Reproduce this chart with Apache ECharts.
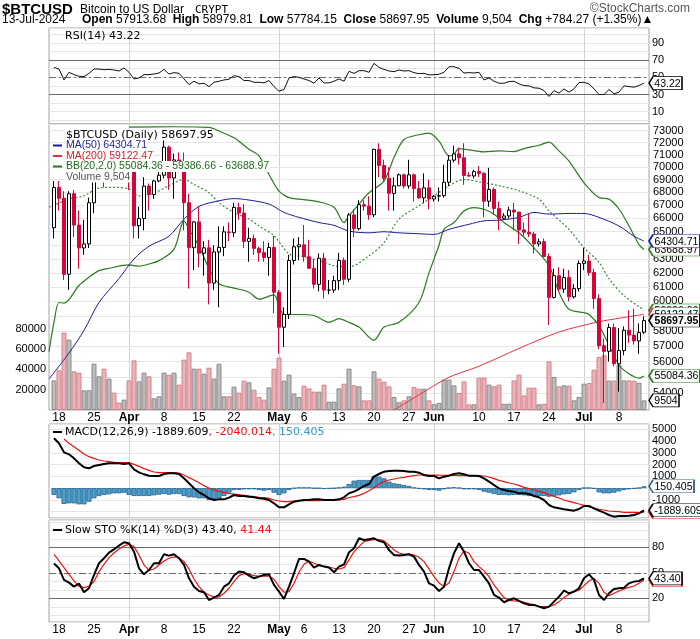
<!DOCTYPE html>
<html><head><meta charset="utf-8">
<script src="https://cdn.jsdelivr.net/npm/echarts@6/dist/echarts.min.js"></script>
<style>html,body{margin:0;padding:0;background:#fff}#c{width:700px;height:639px}</style>
</head><body><div id="c"></div>
<script>
// ---------- DATA (day index 0 = 17-Mar-2024 ... 118 = 13-Jul-2024) ----------
const opens = [65300,68390,67550,61900,67900,65500,63800,64100,67200,69950,69990,69450,70750,69900,69650,71300,69650,65450,65990,68500,67840,68900,69360,71630,69140,70590,70060,67200,63820,65740,63420,63810,61280,63510,63840,64990,64930,66840,66410,64280,64500,63770,63460,63110,63840,60640,58250,59120,62890,63890,64030,63160,62330,61190,63050,60790,60790,61450,62900,61550,66270,65230,67050,66940,66280,71450,70140,69120,67930,68520,69390,68510,69390,68300,67580,68360,67490,67710,67750,68800,70570,71080,70760,69340,69300,69650,69510,67320,68240,66760,66010,66190,66640,66490,65140,64960,64830,64100,64260,63180,60280,61800,60860,61670,60320,60890,62680,62850,62030,60200,57030,56660,58230,55860,56710,58050,57730,57340,57913.68];
const highs = [68900,68900,68100,68100,68200,66600,65900,67600,71200,71500,71700,71500,70900,70300,71400,71300,69650,66900,69200,68700,69000,70300,72300,71750,71100,71200,71200,67900,65800,66900,64300,64400,64000,65400,65400,65700,67200,67200,67100,65300,64800,63900,64300,64200,64700,60800,59600,63300,64500,64600,65500,64400,63000,63400,63450,61500,61800,63450,63100,66400,66700,67400,67400,67700,71500,71950,70600,70000,69200,69500,69500,70600,69500,68900,69500,69000,67800,68400,70200,71000,71750,71600,71950,69600,69800,70100,69600,69950,68400,67300,66400,66900,67200,66500,65700,66400,65000,64500,64500,63400,62300,62400,62300,62200,61200,62900,63800,63300,62300,60500,57500,58500,58500,58200,58300,59400,59500,58500,58979.81];
const lows = [64500,66600,61500,60800,64600,62300,63300,63800,66400,69500,68400,68900,69100,69600,69600,68200,64500,64500,65100,66600,67500,68800,69100,68200,67500,69600,65100,60900,62200,62400,61800,59800,60800,59600,63200,64300,64600,65900,63800,62800,63300,62800,62800,61800,59200,56500,56950,58800,62600,62900,62800,62300,60900,60700,60200,60500,60600,60800,61150,61350,64600,65100,66600,65900,66100,69200,68900,66600,66600,68500,68300,68300,67300,67500,67200,66700,67300,67300,67600,68500,70400,70200,68600,69200,69100,69200,66100,66900,66300,65100,65900,66000,65100,64100,64700,64600,63400,63900,63200,58400,60200,60700,60600,60000,60200,60700,62200,61800,59500,56800,53400,56000,55700,54100,56400,57200,57100,56500,57784.15];
const closes = [68390,67550,61900,67900,65500,63800,64100,67200,69950,69990,69450,70750,69900,69650,71300,69650,65450,65990,68500,67840,68900,69360,71630,69140,70590,70060,67200,63820,65740,63420,63810,61280,63510,63840,64990,64930,66840,66410,64280,64500,63770,63460,63110,63840,60640,58250,59120,62890,63890,64030,63160,62330,61190,63050,60790,60790,61450,62900,61550,66270,65230,67050,66940,66280,71450,70140,69120,67930,68520,69390,68510,69390,68300,67580,68360,67490,67710,67750,68800,70570,71080,70760,69340,69300,69650,69510,67320,68240,66760,66010,66190,66640,66490,65140,64960,64830,64100,64260,63180,60280,61800,60860,61670,60320,60890,62680,62850,62030,60200,57030,56660,58230,55860,56710,58050,57730,57340,57890,58697.95];
const volumes = [29200,39000,76200,69300,38100,36800,19400,19400,45600,33200,40700,30900,17100,7200,10200,29200,48900,28200,36800,33200,11500,13500,36800,34800,36800,25000,49600,56800,40700,40700,35800,41700,30900,45600,13500,13500,23000,17100,28900,27300,20000,12800,10200,22300,40700,51600,28900,34800,16100,12800,24000,21300,18100,18100,25000,8200,8200,21300,25900,40700,24300,23300,9500,9500,38100,30900,27900,23300,12800,7600,9500,13500,22700,21000,21000,9500,5600,6900,29900,29900,24300,16700,28200,5600,5600,31900,31900,25000,23300,25000,6200,6200,29200,34800,14400,22000,22000,5600,6200,47900,32500,23300,24300,24000,9500,12800,25900,26600,39700,52200,54000,29000,29000,44600,29200,29200,28900,26900,9504];
// overlay lines read at sample days: [dayIndex, value]
const ma50Pts = [[-1,54890],[3,56550],[6,58040],[9,59930],[13,61600],[16,63000],[19,63930],[23,64670],[26,65950],[29,66920],[33,67350],[36,67520],[39,67410],[43,67100],[46,66460],[49,66080],[53,65690],[56,65480],[59,65050],[63,64920],[66,65000],[69,64920],[73,64850],[76,64800],[79,65180],[83,65560],[86,65820],[89,65870],[93,66080],[96,66460],[99,66330],[103,66380],[106,66380],[109,66080],[113,65430],[116,64670],[118,64304.71]];
const ma200Pts = [[68,52970],[73,53900],[79,55000],[85,55700],[93,56850],[101,57930],[109,58620],[113,58850],[118,59122.47]];
const bbUpperPts = [[15,73300],[24,73330],[31,73280],[33,72970],[36,72400],[39,71460],[41,70920],[43,69420],[45,68100],[47,67600],[49,67480],[53,67270],[56,66850],[58,65690],[59,66200],[61,67100],[63,67980],[66,68890],[68,70780],[70,72260],[73,72660],[75,72790],[77,72130],[79,70920],[80,71055],[81,71515],[86,71240],[89,71320],[92,71270],[94,71515],[97,71790],[99,72050],[101,71320],[103,70500],[106,68760],[109,67600],[111,67480],[113,66720],[115,65430],[117,64050],[118,63688.97]];
const bbMidPts = [[-1,66850],[3,67480],[6,67740],[9,68350],[12,68400],[15,68270],[17,67740],[20,67950],[23,68530],[26,69020],[28,68630],[31,67980],[33,67200],[36,66450],[39,65950],[41,65430],[44,64700],[47,63360],[49,63230],[52,63000],[56,62520],[59,62430],[63,63230],[66,64190],[69,65950],[73,66970],[76,67740],[79,68530],[82,69020],[86,68760],[89,68530],[93,68130],[97,67480],[99,66580],[103,65180],[106,63820],[109,62760],[111,61590],[114,60400],[117,59640],[118,59386.66]];
const bbLowerPts = [[-1,56640],[0,58590],[1,59930],[2,59880],[5,61110],[7,61690],[9,62160],[11,62330],[15,62570],[17,62480],[19,62640],[21,62880],[24,63700],[26,65820],[27,65180],[29,63930],[31,62300],[33,61230],[36,60930],[39,60640],[41,60160],[44,60450],[45,59690],[46,59110],[49,59110],[52,59040],[55,58580],[57,58830],[59,58580],[61,58260],[64,57390],[66,58260],[69,58580],[73,59930],[75,62000],[77,64000],[78,65180],[80,65690],[82,66570],[84,66830],[86,66700],[88,66310],[90,65690],[93,64920],[96,63810],[99,62520],[101,60640],[103,59460],[106,59230],[107,59110],[109,58360],[111,57060],[113,55780],[115,55220],[117,54950],[118,55084.36]];
const rsi = [61.5,59.6,46.9,55.8,53.1,51.2,50.8,54.6,59.6,59.6,58.8,59.2,58.5,57.3,60.8,55.8,48.1,49.2,53.1,53.1,53.8,55.0,59.2,53.8,55.4,54.6,48.1,41.5,45.4,42.3,43.1,39.2,44.2,45.4,46.9,47.7,51.9,50.8,46.2,46.2,44.2,44.2,43.5,46.2,39.2,33.8,35.8,49.2,50.8,50.0,48.1,46.2,43.1,49.2,43.5,43.5,45.4,48.1,45.4,56.9,54.6,57.7,57.7,55.8,66.2,61.5,59.2,57.3,56.5,58.5,57.3,57.7,55.4,54.2,54.6,52.7,53.1,53.5,55.8,62.3,62.3,60.4,55.0,55.4,55.0,55.8,46.9,49.2,45.4,43.1,43.1,45.0,45.4,42.3,40.4,40.0,37.7,37.3,34.6,27.7,34.6,31.5,36.5,32.7,36.5,43.8,44.2,42.3,36.5,30.0,30.0,35.8,30.8,32.7,40.0,39.2,38.5,40.4,43.22];
const macdLine = [4236,3810,3044,2874,2533,2108,1767,1682,1881,1966,2051,2108,2108,2108,2051,2108,1597,1342,1172,1058,1030,1030,1200,1257,1257,1200,831,406,-20,-360,-587,-871,-1013,-956,-956,-814,-587,-672,-672,-729,-786,-871,-899,-1013,-1296,-1637,-1637,-1382,-1155,-1070,-1013,-1013,-956,-956,-1013,-1013,-1013,-956,-786,-440,-304,-77,179,349,973,1200,1399,1455,1484,1484,1455,1399,1399,1314,1115,1030,1030,831,973,1058,1200,1257,1172,1058,1058,1030,831,548,264,-20,-162,-247,-304,-445,-445,-502,-672,-786,-1013,-1438,-1637,-1722,-1807,-1864,-1920,-1779,-1523,-1523,-1722,-1920,-2091,-2290,-2431,-2375,-2375,-2346,-2290,-2148,-1889.609];
const macdSignal = [null,null,4179,3810,3526,3214,2902,2675,2533,2391,2306,2250,2193,2165,2165,2165,2023,1853,1654,1512,1370,1314,1314,1314,1314,1285,1115,888,689,463,207,9,-162,-275,-360,-474,-502,-559,-616,-672,-729,-786,-814,-871,-1013,-1098,-1155,-1155,-1098,-1070,-1070,-1070,-1070,-1070,-1013,-1013,-1013,-1013,-956,-800,-729,-616,-445,-218,37,349,548,689,775,860,916,1001,1058,1115,1115,1115,1110,1100,1095,1090,1087,1058,1058,1058,1058,1058,1030,945,803,661,548,434,349,235,65,-48,-162,-275,-389,-559,-701,-843,-1013,-1126,-1240,-1353,-1467,-1580,-1694,-1807,-1864,-1949,-1977,-2006,-2062,-2062,-2062,-2091,-2040.014];
const macdHist = [-587,-871,-1353,-1297,-1297,-1382,-1382,-1155,-871,-672,-587,-531,-445,-445,-389,-587,-672,-672,-672,-672,-616,-559,-502,-559,-502,-502,-672,-786,-786,-871,-871,-1013,-956,-871,-672,-389,-162,-162,-105,-105,-105,-162,-218,-162,-389,-587,-445,-162,-20,37,37,37,-20,-20,-77,-48,-20,37,122,349,633,689,689,689,1030,973,831,548,406,349,264,179,37,-48,-105,-162,-162,-218,-105,9,65,9,-105,-105,-105,-162,-304,-389,-502,-587,-587,-616,-587,-587,-616,-672,-672,-672,-672,-729,-672,-616,-531,-502,-360,-162,9,9,-48,-360,-445,-445,-389,-275,-162,-105,-48,9,150.405];
const stoK = [60.8,55.3,41.6,38.4,33.7,37.3,27.1,31.8,47.5,61.2,67.1,73.7,77.6,82.0,85.9,84.7,74.9,55.3,48.2,53.3,61.2,61.2,71.8,70.2,71.8,67.1,59.2,43.5,33.7,28.6,27.1,18.0,20.8,23.9,33.7,37.6,46.7,51.4,50.6,46.7,43.5,45.5,47.5,48.2,35.7,27.8,19.2,33.7,49.4,66.3,66.3,63.1,56.1,59.2,57.3,56.1,50.6,57.3,60.0,74.1,78.8,90.6,88.6,89.4,90.6,87.5,85.9,76.9,71.0,70.2,71.0,71.8,69.0,59.2,51.4,37.6,34.9,28.6,33.7,55.3,72.9,84.7,74.9,61.2,53.3,53.3,45.5,37.6,23.9,20.8,15.3,18.0,20.0,16.9,14.1,12.2,12.2,10.2,8.2,10.2,16.1,22.0,29.0,25.9,27.8,31.8,43.5,48.2,41.6,23.9,18.0,25.9,31.0,31.8,32.5,37.6,39.6,40.4,43.40];
const stoD = [71.8,63.9,56.1,48.2,40.4,34.1,32.5,34.1,39.6,51.4,60.0,67.8,73.3,78.0,81.6,83.5,80.8,71.0,59.2,52.9,54.5,59.2,63.9,67.1,68.6,67.8,63.1,54.5,42.7,33.7,27.1,23.9,21.6,21.2,25.9,31.8,39.6,46.7,49.0,48.2,46.7,45.9,45.9,46.3,42.4,33.7,27.1,27.8,37.6,50.6,60.0,63.9,61.2,59.2,57.6,56.5,55.3,54.5,56.1,65.1,74.9,80.8,86.7,88.2,89.0,89.0,87.5,82.4,76.9,73.3,71.8,71.8,71.0,68.2,63.1,54.5,45.5,38.0,33.7,38.0,51.4,67.1,75.7,73.0,63.1,57.3,52.2,45.5,35.7,28.2,20.8,17.6,16.9,16.5,15.3,13.7,12.2,10.6,10.2,10.2,12.2,16.1,20.8,24.7,27.8,29.4,34.9,40.4,43.5,37.6,27.1,23.1,25.9,28.6,31.0,32.9,34.5,37.6,41.44];
const dateTicks = [[1,'18'],[8,'25'],[15,'Apr'],[22,'8'],[29,'15'],[36,'22'],[45,'May'],[50,'6'],[57,'13'],[64,'20'],[71,'27'],[76,'Jun'],[85,'10'],[92,'17'],[99,'24'],[106,'Jul'],[113,'8']];
const monthStarts = [15,45,76,106];
const priceTicks = [54000,55000,56000,57000,58000,59000,60000,61000,62000,63000,64000,65000,66000,67000,68000,69000,70000,71000,72000,73000];

// ---------- BUILD ----------
const FONT = '"Liberation Sans", Arial, sans-serif';
const LFONT = '"DejaVu Sans", Verdana, sans-serif';
const N = opens.length + 2;                  // one empty slot each side
const cats = Array.from({length: N}, (_, k) => String(k));
const pad = a => [null, ...a, null];
const pts = a => a.map(([i, v]) => [i + 1, v]);
const lab = {}; dateTicks.forEach(([i, t]) => lab[i + 1] = t);
const monthK = monthStarts.map(i => i + 1);
const last = N - 2;

const RED = '#d3063a', UPC = '#000';
const candles = ['-', ...opens.map((o, i) => [o, closes[i], lows[i], highs[i]]), '-'];
const vols = [null, ...volumes.map((v, i) => ({value: v, itemStyle: closes[i] < opens[i]
  ? {color: '#e9b5ba', borderColor: '#d5808a'} : {color: '#bdbdbd', borderColor: '#8a8a8a'}})), null];

function xAxis(g, showLab) {
  return {type: 'category', gridIndex: g, data: cats, boundaryGap: false,
    axisLine: {show: false}, axisTick: {show: false},
    axisLabel: {show: showLab, interval: 0, hideOverlap: false, margin: 2, fontSize: 12, fontFamily: FONT, color: '#000',
      formatter: v => { const t = lab[+v]; if (!t) return ''; return /^[A-Z]/.test(t) ? '{b|' + t + '}' : t; },
      rich: {b: {fontWeight: 'bold', fontSize: 12, fontFamily: FONT, color: '#000'}}},
    splitLine: {show: true, interval: (idx) => monthK.includes(idx), lineStyle: {color: '#d2d2d2', width: 1}}};
}
// value tag with a left-pointing arrow, anchored on the series' last point
function tagMark(value, text, border, z, bold) {
  const w = Math.round(text.replace(/[.,]/g, '').replace('-', '').length * 5.84 + (text.match(/[.,]/g) || []).length * 2.92 + (text[0] === '-' ? 3.5 : 0) + 7);
  return {z: z, silent: true, animation: false,
    symbol: 'path://M0,6.5L4,0L' + w + ',0L' + w + ',13L4,13Z', symbolSize: [w, 13], symbolKeepAspect: false,
    symbolOffset: [w / 2 + 5, 0],
    itemStyle: {color: '#fff', borderColor: border, borderWidth: 1},
    label: {show: true, position: 'inside', offset: [2, 0.5], formatter: () => text, color: '#000', fontSize: 10.5,
      fontFamily: FONT, fontWeight: bold ? 'bold' : 'normal'},
    data: [{coord: [String(last), value]}]};
}
const gridBase = {left: 49, right: 51, show: true, borderColor: '#a3a3a3', borderWidth: 1, backgroundColor: '#fff', containLabel: false, outerBoundsMode: 'none'};
const SPL = {show: true, lineStyle: {color: '#e5e5e5', width: 1}};
function levelLines(solid, dashed) {
  return {z: 1, symbol: ['none', 'none'], silent: true, animation: false, label: {show: false},
    data: [...solid.map(v => ({yAxis: v, lineStyle: {color: '#6a6a6a', width: 1, type: 'solid'}})),
           ...dashed.map(v => ({yAxis: v, lineStyle: {color: '#6a6a6a', width: 1, type: [7, 3, 2, 3]}}))]};
}

const option = {
  animation: false,
  grid: [
    Object.assign({top: 28, height: 96}, gridBase),
    Object.assign({top: 124, height: 286}, gridBase),
    Object.assign({top: 424, height: 94}, gridBase),
    Object.assign({top: 520, height: 102}, gridBase)
  ],
  xAxis: [xAxis(0, false), xAxis(1, true), xAxis(2, false), xAxis(3, true)],
  yAxis: [
    {type: 'value', gridIndex: 0, position: 'right', min: -4.3, max: 107.3, minInterval: 10, maxInterval: 10,
      axisLine: {show: false}, axisTick: {show: false}, splitLine: SPL, showMinLabel: false, showMaxLabel: false,
      axisLabel: {margin: 3, fontSize: 11, fontFamily: FONT, color: '#000', formatter: v => [10, 30, 50, 70, 90].includes(v) ? String(v) : ''}},
    {type: 'log', logBase: 10, gridIndex: 1, min: 52970, max: 73560, show: false, splitLine: {show: false}},
    {type: 'value', gridIndex: 1, position: 'left', min: 0, max: 281800, minInterval: 20000, maxInterval: 20000,
      axisLine: {show: false}, axisTick: {show: false}, splitLine: {show: false},
      axisLabel: {margin: 3, fontSize: 11, fontFamily: FONT, color: '#000', formatter: v => (v >= 20000 && v <= 80000) ? String(v) : ''}},
    {type: 'value', gridIndex: 2, position: 'right', min: -2545, max: 5455, minInterval: 1000, maxInterval: 1000,
      axisLine: {show: false}, axisTick: {show: false}, splitLine: SPL, showMinLabel: false, showMaxLabel: false,
      axisLabel: {margin: 3, fontSize: 11, fontFamily: FONT, color: '#000', formatter: v => (v % 1000 === 0 && v >= -2000 && v <= 5000) ? String(v) : ''}},
    {type: 'value', gridIndex: 3, position: 'right', min: -7.9, max: 112.1, minInterval: 10, maxInterval: 10,
      axisLine: {show: false}, axisTick: {show: false}, splitLine: SPL, showMinLabel: false, showMaxLabel: false,
      axisLabel: {margin: 3, fontSize: 11, fontFamily: FONT, color: '#000', formatter: v => [20, 50, 80].includes(v) ? String(v) : ''}}
  ],
  series: [
    // RSI
    {type: 'line', xAxisIndex: 0, yAxisIndex: 0, data: pad(rsi), showSymbol: false, z: 3,
      lineStyle: {color: '#111', width: 1}, markPoint: tagMark(43.22, '43.22', '#000', 10),
      markLine: levelLines([70, 30], [50])},
    // price gridlines + labels
    {type: 'line', xAxisIndex: 1, yAxisIndex: 1, data: pad(closes), showSymbol: false, silent: true, z: 0,
      lineStyle: {opacity: 0, width: 0},
      markLine: {z: 0, symbol: ['none', 'none'], silent: true, animation: false,
        lineStyle: {color: '#e5e5e5', width: 1, type: 'solid'},
        label: {show: true, position: 'end', distance: 4, formatter: p => String(p.value), color: '#000', fontSize: 11, fontFamily: FONT},
        data: priceTicks.map(v => ({yAxis: v}))}},
    // volume
    {type: 'bar', xAxisIndex: 1, yAxisIndex: 2, data: vols, barWidth: 5, z: 1, itemStyle: {borderWidth: 1},
      markPoint: tagMark(9504, '9504', '#000', 10)},
    // Bollinger bands
    {type: 'line', xAxisIndex: 1, yAxisIndex: 1, data: pts(bbMidPts), connectNulls: true, smooth: 0.3, showSymbol: false, z: 2,
      lineStyle: {color: '#3d8a3d', width: 1.2, type: [2, 2]}, markPoint: tagMark(59386.66, '59386.66', '#2b7a1f', 10)},
    {type: 'line', xAxisIndex: 1, yAxisIndex: 1, data: pts(bbUpperPts), connectNulls: true, smooth: 0.3, showSymbol: false, z: 2,
      lineStyle: {color: '#2b7a1f', width: 1.2}, markPoint: tagMark(63688.97, '63688.97', '#2b7a1f', 10)},
    {type: 'line', xAxisIndex: 1, yAxisIndex: 1, data: pts(bbLowerPts), connectNulls: true, smooth: 0.3, showSymbol: false, z: 2,
      lineStyle: {color: '#2b7a1f', width: 1.2}, markPoint: tagMark(55084.36, '55084.36', '#2b7a1f', 10)},
    // moving averages
    {type: 'line', xAxisIndex: 1, yAxisIndex: 1, data: pts(ma200Pts), connectNulls: true, smooth: 0.3, showSymbol: false, z: 3,
      lineStyle: {color: '#e2343e', width: 1}, markPoint: tagMark(59122.47, '59122.47', '#e2343e', 11)},
    {type: 'line', xAxisIndex: 1, yAxisIndex: 1, data: pts(ma50Pts), connectNulls: true, smooth: 0.3, showSymbol: false, z: 3,
      lineStyle: {color: '#1d1d9a', width: 1}, markPoint: tagMark(64304.71, '64304.71', '#1d1d9a', 11)},
    // candles
    {type: 'candlestick', xAxisIndex: 1, yAxisIndex: 1, data: candles, barWidth: 4, z: 4,
      itemStyle: {color: '#fff', color0: RED, borderColor: UPC, borderColor0: RED, borderWidth: 1},
      markPoint: tagMark(58697.95, '58697.95', '#000', 12, true)},
    // MACD
    {type: 'bar', xAxisIndex: 2, yAxisIndex: 3, data: pad(macdHist), barWidth: 5, z: 1,
      itemStyle: {color: '#4f9fcc', borderColor: '#1f5f8d', borderWidth: 0.8},
      markPoint: tagMark(150.405, '150.405', '#336699', 10)},
    {type: 'line', xAxisIndex: 2, yAxisIndex: 3, data: pad(macdSignal), showSymbol: false, z: 2,
      lineStyle: {color: '#ee1111', width: 1.2}, markPoint: tagMark(-2040.014, '-2040.014', '#ee1111', 10)},
    {type: 'line', xAxisIndex: 2, yAxisIndex: 3, data: pad(macdLine), showSymbol: false, z: 3,
      lineStyle: {color: '#000', width: 2}, markPoint: tagMark(-1889.609, '-1889.609', '#000', 11)},
    // Slow stochastic
    {type: 'line', xAxisIndex: 3, yAxisIndex: 4, data: pad(stoD), showSymbol: false, z: 2,
      lineStyle: {color: '#ee1111', width: 1.2}, markPoint: tagMark(41.44, '41.44', '#ee1111', 10),
      markLine: levelLines([80, 20], [50])},
    {type: 'line', xAxisIndex: 3, yAxisIndex: 4, data: pad(stoK), showSymbol: false, z: 3,
      lineStyle: {color: '#000', width: 2}, markPoint: tagMark(43.40, '43.40', '#000', 11)}
  ],
  graphic: [
    {type: 'text', x: 2, y: 10, z: 100, style: {text: '$BTCUSD', font: 'bold 15px ' + FONT, fill: '#000', verticalAlign: 'middle'}},
    {type: 'text', x: 80, y: 10, z: 100, style: {text: 'Bitcoin to US Dollar', font: '12px ' + FONT, fill: '#000', verticalAlign: 'middle'}},
    {type: 'text', x: 195, y: 10, z: 100, style: {text: 'CRYPT', font: '11px "DejaVu Sans Mono", monospace', fill: '#000', verticalAlign: 'middle'}},
    {type: 'text', x: 690, y: 9, z: 100, style: {text: '©StockCharts.com', font: '12px ' + FONT, fill: '#555', align: 'right', verticalAlign: 'middle'}},
    {type: 'text', x: 2, y: 20, z: 100, style: {text: '13-Jul-2024', font: '12px ' + FONT, fill: '#000', verticalAlign: 'middle'}},
    {type: 'text', x: 82, y: 20, z: 100, style: {
      text: '{b|Open} 57913.68  {b|High} 58979.81  {b|Low} 57784.15  {b|Close} 58697.95  {b|Volume} 9,504  {b|Chg} +784.27 (+1.35%)▲',
      font: '12px ' + FONT, fill: '#000', verticalAlign: 'middle',
      rich: {b: {font: 'bold 12px ' + FONT, fill: '#000'}}}},
    // panel legends
    {type: 'text', x: 65, y: 36, z: 100, style: {text: 'RSI(14) 43.22', font: '11px ' + LFONT, fill: '#000', verticalAlign: 'middle'}},
    {type: 'text', x: 65, y: 135, z: 100, style: {text: '$BTCUSD (Daily) 58697.95', font: '11px ' + LFONT, fill: '#000', verticalAlign: 'middle', backgroundColor: '#fff', padding: [0, 1]}},
    {type: 'rect', z: 100, shape: {x: 53, y: 144.5, width: 9, height: 2}, style: {fill: '#1d1d9a'}},
    {type: 'text', x: 65, y: 145.5, z: 100, style: {text: 'MA(50) 64304.71', font: '10.5px ' + FONT, fill: '#1d1d9a', verticalAlign: 'middle', backgroundColor: '#fff', padding: [0, 1]}},
    {type: 'rect', z: 100, shape: {x: 53, y: 155, width: 9, height: 2}, style: {fill: '#e2343e'}},
    {type: 'text', x: 65, y: 156, z: 100, style: {text: 'MA(200) 59122.47', font: '10.5px ' + FONT, fill: '#d2202c', verticalAlign: 'middle', backgroundColor: '#fff', padding: [0, 1]}},
    {type: 'rect', z: 100, shape: {x: 53, y: 165.5, width: 9, height: 2}, style: {fill: '#2b7a1f'}},
    {type: 'text', x: 65, y: 166.5, z: 100, style: {text: 'BB(20,2.0) 55084.36 - 59386.66 - 63688.97', font: '10.5px ' + FONT, fill: '#1e6a1e', verticalAlign: 'middle', backgroundColor: '#fff', padding: [0, 1]}},
    {type: 'text', x: 65, y: 177, z: 100, style: {text: 'Volume 9,504', font: '10.5px ' + FONT, fill: '#555', verticalAlign: 'middle', backgroundColor: '#fff', padding: [0, 1]}},
    {type: 'rect', z: 100, shape: {x: 53, y: 431, width: 9, height: 2}, style: {fill: '#000'}},
    {type: 'text', x: 65, y: 432, z: 100, style: {text: 'MACD(12,26,9) -1889.609{r|, -2040.014}{c|, 150.405}', font: '11px ' + LFONT, fill: '#000', verticalAlign: 'middle',
      rich: {r: {font: '11px ' + LFONT, fill: '#ee1111'}, c: {font: '11px ' + LFONT, fill: '#3399cc'}}}},
    {type: 'rect', z: 100, shape: {x: 53, y: 529, width: 9, height: 2}, style: {fill: '#000'}},
    {type: 'text', x: 65, y: 530, z: 100, style: {text: 'Slow STO %K(14) %D(3) 43.40, {r|41.44}', font: '11px ' + LFONT, fill: '#000', verticalAlign: 'middle',
      rich: {r: {font: '11px ' + LFONT, fill: '#ee1111'}}}}
  ]
};
const chart = echarts.init(document.getElementById('c'), null, {renderer: 'canvas', width: 700, height: 639});
chart.setOption(option);
</script>
</body></html>
